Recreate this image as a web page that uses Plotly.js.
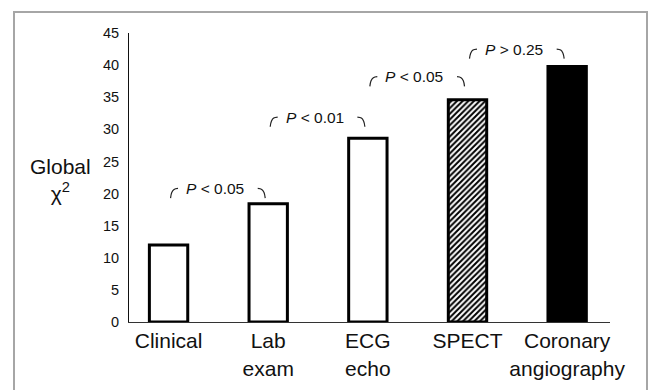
<!DOCTYPE html>
<html>
<head>
<meta charset="utf-8">
<script src="https://cdn.plot.ly/plotly-3.0.1.min.js"></script>
<style>
  html, body { margin: 0; padding: 0; background: #fff; }
  #wrap { position: relative; width: 650px; height: 390px; overflow: hidden; }
  #chart { position: absolute; left: 0; top: 0; width: 650px; height: 390px; }
  #frame { position: absolute; left: 13px; top: 11px; width: 635px; height: 420px;
           border: 2px solid #a6a6a6; pointer-events: none; box-sizing: border-box; }
</style>
</head>
<body>
<div id="wrap">
  <div id="chart"></div>
  <div id="frame"></div>
</div>
<script>
// ---- data ----
const categories = ["Clinical", "Lab exam", "ECG echo", "SPECT", "Coronary angiography"];
const globalChi2 = [12, 18.4, 28.6, 34.6, 39.8];
const barFill = ["white", "white", "white", "white", "black"];
const barPattern = ["", "", "", "/", ""];
const pLabels = ["<i>P</i> &lt; 0.05", "<i>P</i> &lt; 0.01", "<i>P</i> &lt; 0.05", "<i>P</i> &gt; 0.25"];
const pLevels = [20.8, 31.9, 38.2, 42.5];   // height of each comparison label
const yTicks = [0, 5, 10, 15, 20, 25, 30, 35, 40, 45];

// ---- build ----
const FONT = "Liberation Sans, Arial, sans-serif";
const idx = categories.map((_, i) => i);
const tickText = categories.map(c => {
  const k = c.indexOf(" ");
  return k < 0 ? c : c.slice(0, k) + "<br>" + c.slice(k + 1);
});

const traces = categories.map((c, i) => {
  const marker = {
    color: barFill[i],
    line: { color: "black", width: 3 }
  };
  if (barPattern[i]) {
    marker.pattern = { shape: barPattern[i], fgcolor: "black", bgcolor: "white",
                       size: 4, solidity: 0.5, fillmode: "replace" };
  }
  return {
    type: "bar", x: [i], y: [globalChi2[i]], width: 0.385, name: c,
    marker: marker, hoverinfo: "skip", showlegend: false
  };
});

const annotations = [];
pLevels.forEach((L, i) => {
  const x0 = i + 0.02, x1 = i + 1 - 0.03;
  traces.push({
    type: "scatter", mode: "lines", showlegend: false, hoverinfo: "skip",
    x: [x0, x0 + 0.012, x0 + 0.035, x0 + 0.075],
    y: [L - 1.5, L - 0.65, L - 0.15, L],
    line: { color: "#222", width: 1.2, shape: "spline" }
  });
  traces.push({
    type: "scatter", mode: "lines", showlegend: false, hoverinfo: "skip",
    x: [x1 - 0.075, x1 - 0.035, x1 - 0.012, x1],
    y: [L, L - 0.15, L - 0.65, L - 1.5],
    line: { color: "#222", width: 1.2, shape: "spline" }
  });
  annotations.push({
    x: (x0 + x1) / 2 - 0.03, y: L, xref: "x", yref: "y",
    text: pLabels[i], showarrow: false,
    xanchor: "center", yanchor: "middle",
    font: { family: FONT, size: 15.5, color: "#111" }
  });
});

annotations.push({
  xref: "paper", yref: "paper", x: -0.143, y: 0.49,
  xanchor: "center", yanchor: "middle",
  text: "Global<br>χ<sup>2</sup>", showarrow: false,
  font: { family: FONT, size: 21, color: "#111" }
});

const layout = {
  width: 650, height: 390,
  margin: { l: 129, r: 40, t: 33, b: 68 },
  paper_bgcolor: "white", plot_bgcolor: "white",
  font: { family: FONT, color: "#111" },
  barmode: "overlay",
  xaxis: {
    type: "linear", range: [-0.397, 4.43],
    tickvals: idx, ticktext: tickText,
    showline: true, linecolor: "#333", linewidth: 1,
    ticks: "", showgrid: false, zeroline: false,
    tickfont: { size: 21, color: "#111" }
  },
  yaxis: {
    range: [0, 45], tickvals: yTicks,
    showline: true, linecolor: "#111", linewidth: 1,
    ticks: "", showgrid: false, zeroline: false,
    ticklabelstandoff: 6,
    tickfont: { size: 14.5, color: "#111" }
  },
  annotations: annotations
};

Plotly.newPlot("chart", traces, layout, { displayModeBar: false, staticPlot: true });
</script>
</body>
</html>
